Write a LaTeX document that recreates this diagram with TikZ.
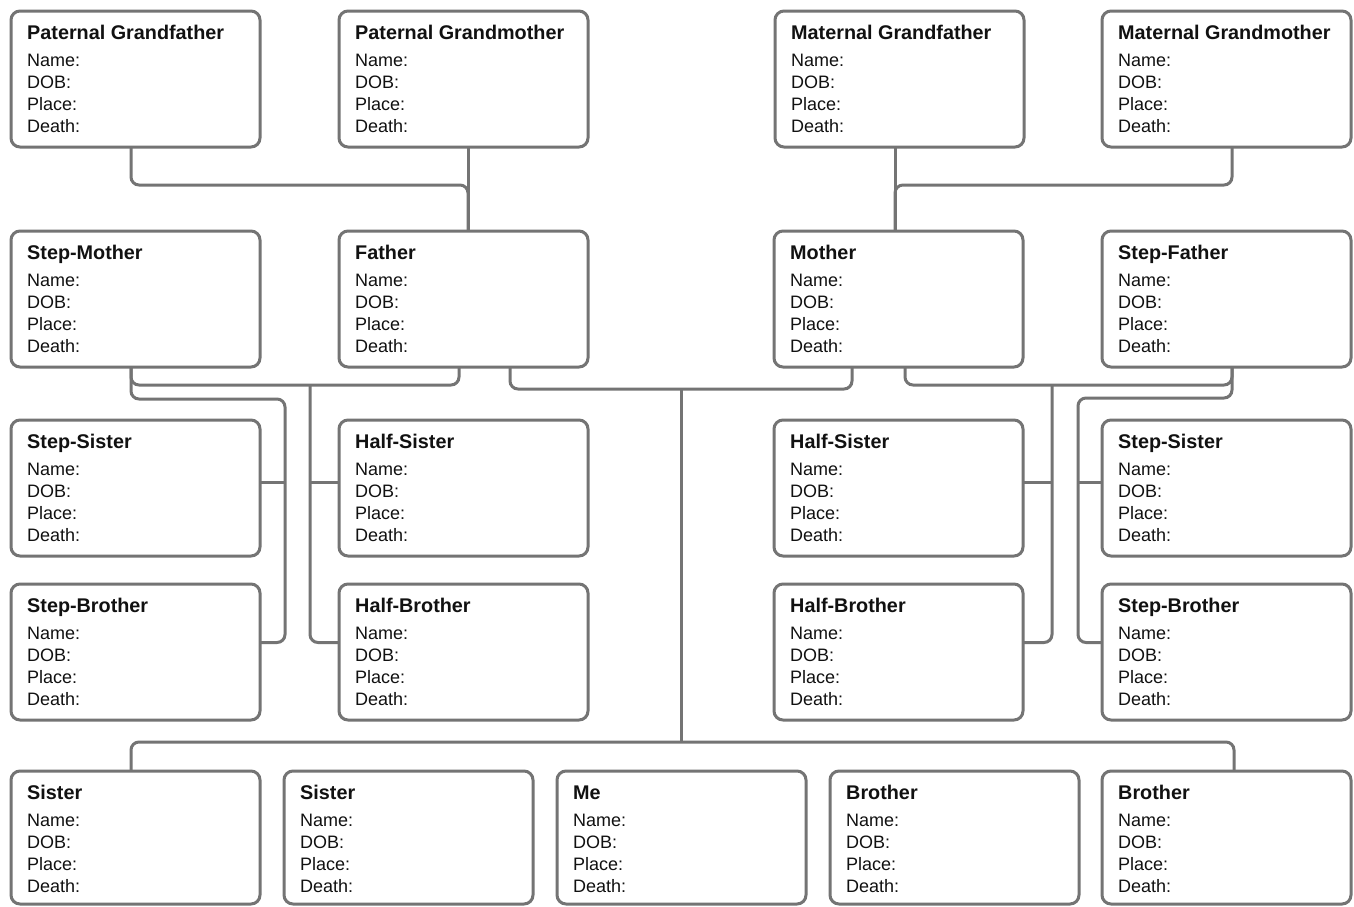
\documentclass[tikz,border=0pt]{standalone}
\usepackage{fontspec}
\setmainfont{Liberation Sans}
\usetikzlibrary{calc}
\definecolor{linegray}{HTML}{747474}
\definecolor{ink}{HTML}{111111}
\tikzset{
  card/.style={draw=linegray, line width=3pt, rounded corners=9pt, fill=white,
    inner sep=0pt, outer sep=0pt, anchor=north west, minimum width=249pt, minimum height=136pt},
  conn/.style={draw=linegray, line width=3pt, rounded corners=8pt},
  ttl/.style={font=\bfseries\fontsize{19.8}{22}\selectfont, text=ink, anchor=base west, inner sep=0pt},
  itm/.style={font=\fontsize{18}{22}\selectfont, text=ink, anchor=base west, inner sep=0pt},
}
\newcommand\famcard[5][136pt]{%
  \node[card, minimum height=#1] (#2) at (#3,#4) {};
  \node[ttl] (#2t) at ([shift={(16pt,-28.5pt)}]#2.north west) {#5};
  \node[itm] (#2a) at ([shift={(16pt,-55.7pt)}]#2.north west) {Name:};
  \node[itm] (#2b) at ([shift={(16pt,-77.7pt)}]#2.north west) {DOB:};
  \node[itm] (#2c) at ([shift={(16pt,-99.7pt)}]#2.north west) {Place:};
  \node[itm] (#2d) at ([shift={(16pt,-121.7pt)}]#2.north west) {Death:};
}
\begin{document}
\begin{tikzpicture}[x=1pt,y=-1pt]
\path[use as bounding box, fill=white] (0,0) rectangle (1354,906);
% row 1
\famcard{pgf}{11}{11}{Paternal Grandfather}
\famcard{pgm}{339}{11}{Paternal Grandmother}
\famcard{mgf}{775}{11}{Maternal Grandfather}
\famcard{mgm}{1102}{11}{Maternal Grandmother}
% row 2
\famcard{smo}{11}{231}{Step-Mother}
\famcard{fat}{339}{231}{Father}
\famcard{mot}{774}{231}{Mother}
\famcard{sfa}{1102}{231}{Step-Father}
% row 3
\famcard{ssl}{11}{420}{Step-Sister}
\famcard{hsl}{339}{420}{Half-Sister}
\famcard{hsr}{774}{420}{Half-Sister}
\famcard{ssr}{1102}{420}{Step-Sister}
% row 4
\famcard{sbl}{11}{584}{Step-Brother}
\famcard{hbl}{339}{584}{Half-Brother}
\famcard{hbr}{774}{584}{Half-Brother}
\famcard{sbr}{1102}{584}{Step-Brother}
% row 5
\famcard[133pt]{sisa}{11}{771}{Sister}
\famcard[133pt]{sisb}{284}{771}{Sister}
\famcard[133pt]{me}{557}{771}{Me}
\famcard[133pt]{broa}{830}{771}{Brother}
\famcard[133pt]{brob}{1102}{771}{Brother}
% grandparents
\draw[conn] ([xshift=120pt]pgf.south west) -- ++(0,38) -| ([xshift=129pt]fat.north west);
\draw[conn] ([xshift=129pt]pgm.south west) -- ([xshift=129pt]fat.north west);
\draw[conn] ([xshift=120pt]mgf.south west) -- ([xshift=121pt]mot.north west);
\draw[conn] ([xshift=130pt]mgm.south west) -- ++(0,38) -| ([xshift=121pt]mot.north west);
% step-mother and father
\draw[conn] ([xshift=120pt]smo.south west) -- ++(0,18) coordinate (lm) -| ([xshift=120pt]fat.south west);
\draw[conn] ([xshift=120pt]smo.south west) -- ++(0,32) -| ($(sbl.east)+(25pt,9.5pt)$) -- ([yshift=9.5pt]sbl.east);
\draw[conn] ($(ssl.east)+(25pt,6pt)$) -- ([yshift=6pt]ssl.east);
\draw[conn] ($(lm -| hbl.west)+(-29pt,0)$) |- ([yshift=9.5pt]hbl.west);
\draw[conn] ($(hsl.west)+(-29pt,6pt)$) -- ([yshift=6pt]hsl.west);
% father and mother
\draw[conn] ([xshift=171pt]fat.south west) -- ++(0,22) coordinate (cm) -| ([xshift=78pt]mot.south west);
\coordinate (cv) at ($(cm)+(171pt,0)$);
\draw[conn] ([xshift=120pt]sisa.north west) -- ++(0,-29) coordinate (bb) -| ([xshift=132pt]brob.north west);
\draw[conn] (cv) -- (cv |- bb);
% mother and step-father
\draw[conn] ([xshift=131pt]mot.south west) -- ++(0,18) coordinate (rm) -| ([xshift=130pt]sfa.south west);
\draw[conn] ([xshift=130pt]sfa.south west) -- ++(0,31) -| ($(sbr.west)+(-24pt,9.5pt)$) -- ([yshift=9.5pt]sbr.west);
\draw[conn] ($(ssr.west)+(-24pt,6pt)$) -- ([yshift=6pt]ssr.west);
\draw[conn] ($(rm -| hbr.east)+(29pt,0)$) |- ([yshift=9.5pt]hbr.east);
\draw[conn] ($(hsr.east)+(29pt,6pt)$) -- ([yshift=6pt]hsr.east);
\end{tikzpicture}
\end{document}
